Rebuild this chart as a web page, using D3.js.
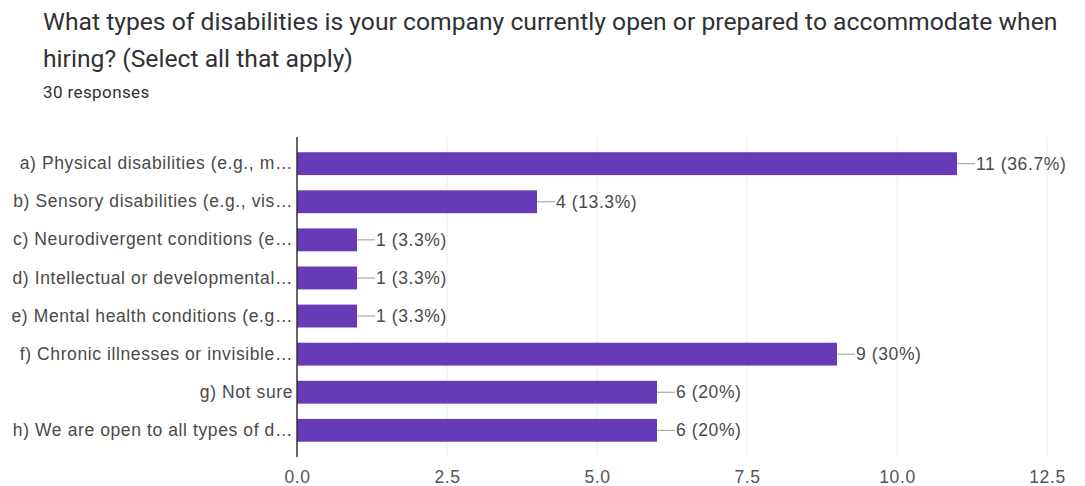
<!DOCTYPE html>
<html>
<head>
<meta charset="utf-8">
<script src="https://cdn.jsdelivr.net/npm/d3@7"></script>
<style>
  body { margin: 0; background: #fff; }
  svg { display: block; }
</style>
</head>
<body>
<div id="chart"></div>
<script>
var categories = [
  'a) Physical disabilities (e.g., m…',
  'b) Sensory disabilities (e.g., vis…',
  'c) Neurodivergent conditions (e…',
  'd) Intellectual or developmental…',
  'e) Mental health conditions (e.g…',
  'f) Chronic illnesses or invisible…',
  'g) Not sure',
  'h) We are open to all types of d…'
];
var counts = [11, 4, 1, 1, 1, 9, 6, 6];
var percentLabels = ['36.7%', '13.3%', '3.3%', '3.3%', '3.3%', '30%', '20%', '20%'];
var xTicks = [0, 2.5, 5, 7.5, 10, 12.5];

var width = 1085, height = 486;
var plot = { left: 297, right: 1047, top: 137, bottom: 457 };
var labelFont = '"Liberation Sans", Arial, sans-serif';

var svg = d3.select('#chart')
	.append('svg')
	.attr('width', width)
	.attr('height', height);

// Heading
var head = svg.append('g')
	.style('font-family', 'Roboto, "Liberation Sans", Arial, sans-serif')
	.style('fill', '#303134');
head.append('text').attr('x', 43).attr('y', 30).style('font-size', '24.7px')
	.text('What types of disabilities is your company currently open or prepared to accommodate when');
head.append('text').attr('x', 43).attr('y', 67).style('font-size', '24.7px')
	.text('hiring? (Select all that apply)');
head.append('text').attr('x', 43).attr('y', 98).style('font-size', '17px')
	.style('letter-spacing', '0.4px')
	.text('30 responses');

var x = d3.scaleLinear().domain([0, 12.5]).range([plot.left, plot.right]);
var y = d3.scaleBand().domain(categories).range([plot.top, plot.bottom]).padding(0.4);

var g = svg.append('g')
	.style('font-family', labelFont)
	.style('font-size', '17.5px')
	.style('letter-spacing', '0.6px');

// Gridlines
g.selectAll('.grid')
	.data(xTicks.filter(function(d) { return d > 0; }))
	.enter().append('line')
	.attr('class', 'grid')
	.attr('x1', function(d) { return x(d); })
	.attr('x2', function(d) { return x(d); })
	.attr('y1', plot.top)
	.attr('y2', plot.bottom)
	.style('stroke', '#ececec')
	.style('stroke-width', 1);

// x axis labels
var xAxis = d3.axisBottom(x)
	.tickValues(xTicks)
	.tickFormat(d3.format('.1f'))
	.tickSize(0)
	.tickPadding(14);
var xg = g.append('g')
	.attr('transform', 'translate(0,' + plot.bottom + ')')
	.call(xAxis);
xg.select('.domain').remove();
xg.selectAll('text').style('font-size', '17.5px').style('fill', '#555').style('font-family', labelFont);

// Bars
g.selectAll('.bar')
	.data(counts)
	.enter().append('rect')
	.attr('class', 'bar')
	.attr('x', x(0))
	.attr('y', function(d, i) { return y(categories[i]); })
	.attr('width', function(d) { return x(d) - x(0); })
	.attr('height', y.bandwidth())
	.style('fill', '#673ab7');

// Value connectors and labels
g.selectAll('.conn')
	.data(counts)
	.enter().append('line')
	.attr('x1', function(d) { return x(d); })
	.attr('x2', function(d) { return x(d) + 18; })
	.attr('y1', function(d, i) { return y(categories[i]) + y.bandwidth() / 2; })
	.attr('y2', function(d, i) { return y(categories[i]) + y.bandwidth() / 2; })
	.style('stroke', '#999')
	.style('stroke-width', 1);

g.selectAll('.val')
	.data(counts)
	.enter().append('text')
	.attr('x', function(d) { return x(d) + 19; })
	.attr('y', function(d, i) { return y(categories[i]) + y.bandwidth() / 2; })
	.attr('dy', '0.35em')
	.style('fill', '#4a4a4a')
	.text(function(d, i) { return d + ' (' + percentLabels[i] + ')'; });

// y axis
var yAxis = d3.axisLeft(y).tickSize(0).tickPadding(4);
var yg = g.append('g')
	.attr('transform', 'translate(' + plot.left + ',0)')
	.call(yAxis);
yg.select('.domain').remove();
yg.selectAll('text').style('font-size', '17.5px').style('fill', '#4a4a4a').style('font-family', labelFont);

g.append('line')
	.attr('x1', x(0)).attr('x2', x(0))
	.attr('y1', plot.top).attr('y2', plot.bottom)
	.style('stroke', '#333')
	.style('stroke-width', 1.5);
</script>
</body>
</html>
